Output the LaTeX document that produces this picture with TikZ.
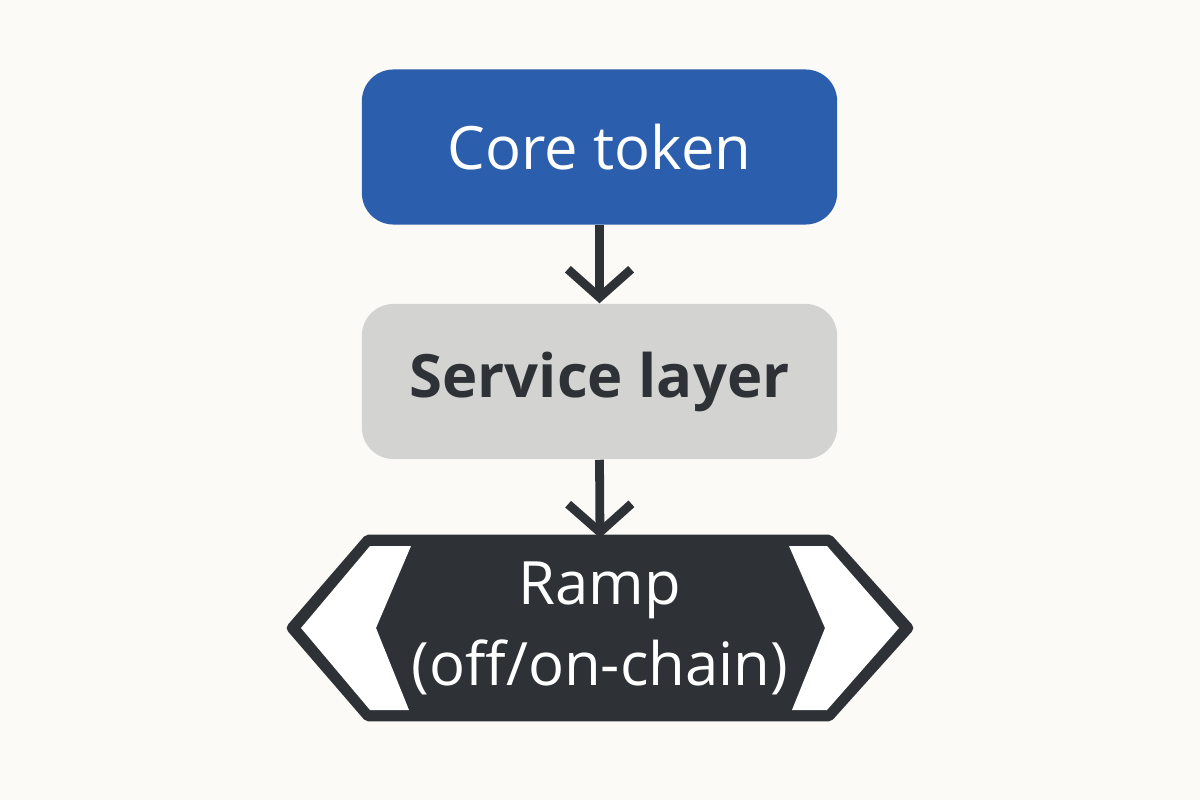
\documentclass[tikz,border=0pt]{standalone}
\usepackage{fontspec}
\setmainfont{Open Sans}
\usepackage{xcolor}
\definecolor{bg-paper}{HTML}{FBFAF6}
\definecolor{core-blue}{HTML}{2B5FAD}
\definecolor{service-gray}{HTML}{D3D3D1}
\definecolor{ink-dark}{HTML}{2E3236}
\usetikzlibrary{positioning,arrows.meta}

\begin{document}
\begin{tikzpicture}[
    x=0.01cm, y=-0.01cm,
    layer box/.style={
        rounded corners=9pt,
        minimum width=4.75cm,
        minimum height=1.55cm,
        font=\fontsize{17}{20}\selectfont
    },
    arrow/.style={-{Straight Barb[length=8pt,width=18pt]}, line width=2.5pt, ink-dark}
]
\useasboundingbox[fill=bg-paper] (0,0) rectangle (1200,800);

% Layers
\node[layer box, fill=core-blue, text=white] (core) at (599.5,147) {Core token};
\node[layer box, fill=service-gray, text=ink-dark, font=\fontsize{17}{20}\selectfont\bfseries] (service) at (599.5,381.5) {Service layer};

% Ramp
\draw[ink-dark, fill=ink-dark, line width=3pt, line join=round]
    (368,540) -- (829,540) -- (908,628) -- (829,716) -- (368,716) -- (292,628) -- cycle;
\fill[white] (370,546) -- (411,546) -- (376,628) -- (409,710) -- (370,710) -- (301,628) -- cycle;
\fill[white] (827,546) -- (789,546) -- (825,628) -- (792,710) -- (827,710) -- (899,628) -- cycle;
\node[text=white, align=center, font=\fontsize{17}{23}\selectfont] (ramp) at (600,628) {Ramp\\(off/on-chain)};
\coordinate (ramp top) at (600,538);

% Arrows
\draw[arrow] (core.south) -- (service.north);
\draw[arrow] (service.south) -- (ramp top);

\end{tikzpicture}
\end{document}
